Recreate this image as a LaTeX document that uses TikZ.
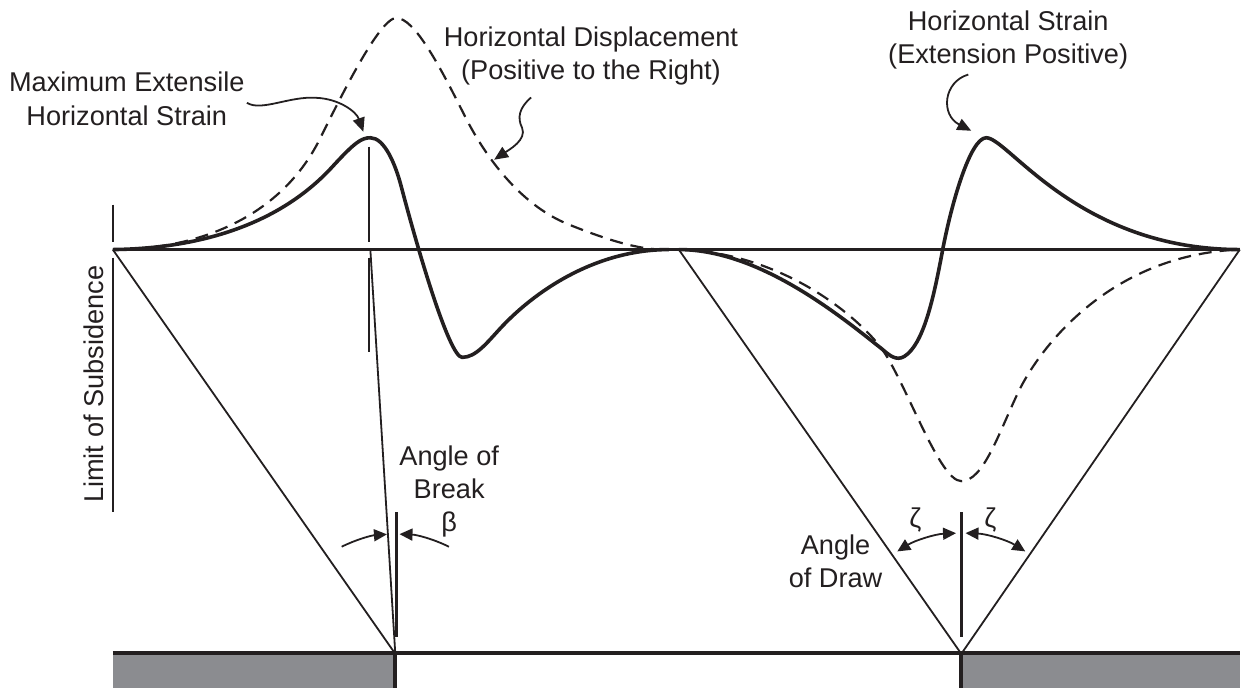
\documentclass[tikz,border=0pt]{standalone}
\usepackage{fontspec}
\setmainfont{Liberation Sans}
\usepackage{tikz}
\usetikzlibrary{
  arrows.meta,
  calc
}
\definecolor{msInk}{HTML}{231F20}
\definecolor{msGround}{HTML}{8B8C90}
\tikzset{
  lbl/.style={font=\fontsize{13.6}{16.6}\selectfont, align=center, inner sep=1pt, text=msInk},
  strain/.style={line width=1.8pt, draw=msInk},
  displ/.style={line width=1.1pt, draw=msInk, dash pattern=on 6.5pt off 4pt},
  baseln/.style={line width=1.8pt, draw=msInk},
  guide/.style={line width=0.9pt, draw=msInk},
  marker/.style={line width=1.3pt, draw=msInk},
  groundln/.style={line width=2.2pt, draw=msInk},
  annot/.style={-{Triangle[length=7pt,width=6pt]}, line width=0.9pt, draw=msInk},
  angarrow/.style={-{Triangle[length=6.5pt,width=6pt]}, line width=0.9pt, draw=msInk},
  angboth/.style={{Triangle[length=6.5pt,width=6pt]}-{Triangle[length=6.5pt,width=6pt]}, line width=0.9pt, draw=msInk}
}

\begin{document}
\begin{tikzpicture}[x=0.5pt, y=-0.5pt]
  \path[fill=white] (0,0) rectangle (1242,689);
  % key points of the profile
  \coordinate (L) at (113,250);
  \coordinate (P) at (371,250);
  \coordinate (M) at (680,250);
  \coordinate (R) at (1242,250);
  \coordinate (B1) at (396,655);
  \coordinate (B2) at (963,655);
  \coordinate (strpeakL) at (364,132);
  \coordinate (dispslope) at (495,160);
  \coordinate (strpeakR) at (973,131);

  % ground and seam
  \fill[msGround] (113,655) rectangle (396,689);
  \fill[msGround] (963,655) rectangle (1242,689);
  \draw[groundln] (113,654) -- (1242,654);
  \draw[groundln] (396,654) -- (396,689);
  \draw[groundln] (963,654) -- (963,689);

  % surface and limit lines
  \draw[baseln] (L) -- (R);
  \draw[guide] (L) -- (B1);
  \draw[guide] (P) -- (B1);
  \draw[guide] (M) -- (B2) -- (R);
  \draw[marker] (113,205) -- (113,242);
  \draw[marker] (113,258) -- (113,513);
  \draw[guide] (370,147) -- (370,242);
  \draw[guide] (370,258) -- (370,353);
  \draw[marker] (397,513) -- (397,638);
  \draw[marker] (963,513) -- (963,638);

  % horizontal strain
  \draw[strain] (L) .. controls (200,249) and (280,225) .. (333,167)
    .. controls (355,143) and (362,138) .. (371,138)
    .. controls (385,138) and (396,164) .. (402,187)
    .. controls (418,248) and (450,358) .. (463,358)
    .. controls (477,358) and (488,343) .. (503,327)
    .. controls (540,288) and (600,250) .. (670,250);
  \draw[strain] (M) .. controls (760,250) and (840,315) .. (884,350)
    .. controls (891,356) and (898,362) .. (906,357)
    .. controls (925,345) and (935,300) .. (944,252)
    .. controls (953,204) and (972,138) .. (988,138)
    .. controls (1010,138) and (1080,250) .. (R);

  % horizontal displacement
  \draw[displ] (L) .. controls (210,250) and (285,210) .. (320,140)
    .. controls (340,100) and (380,18) .. (397,18)
    .. controls (415,18) and (440,65) .. (465,115)
    .. controls (485,155) and (520,205) .. (570,225)
    .. controls (610,241) and (640,250) .. (665,250);
  \draw[displ] (M) .. controls (770,252) and (845,303) .. (880,345)
    .. controls (905,375) and (940,482) .. (963,482)
    .. controls (985,482) and (1000,435) .. (1020,393)
    .. controls (1040,351) and (1110,255) .. (R);

  % labels
  \node[lbl] (maxlbl) at (127,99) {Maximum Extensile\\Horizontal Strain};
  \node[lbl] (displbl) at (592,56) {Horizontal Displacement\\(Positive to the Right)};
  \node[lbl] (strlbl) at (1010,40) {Horizontal Strain\\(Extension Positive)};
  \node[lbl, rotate=90] (limlbl) at (94,385) {Limit of Subsidence};
  \node[lbl] (breaklbl) at (450,492) {Angle of\\Break\\β};
  \node[lbl] (drawlbl) at (837,562) {Angle\\of Draw};
  \node[lbl] (zetaL) at (917,521) {ζ};
  \node[lbl] (zetaR) at (992,521) {ζ};

  \draw[annot] ([shift={(0,4)}]maxlbl.east) .. controls (262,112) and (290,96) .. (317,98)
    .. controls (340,99) and (357,112) .. (strpeakL);
  \draw[annot] ([shift={(-60,10)}]displbl.south) .. controls (520,108) and (518,118) .. (523,128)
    .. controls (528,140) and (510,150) .. (dispslope);
  \draw[annot] ([shift={(-40,3)}]strlbl.south) .. controls (945,82) and (942,115) .. (strpeakR);

  % angle arrows
  \draw[angarrow] ([shift={(-116.6:120)}]B1) arc[start angle=-116.6, end angle=-94, radius=120];
  \draw[angarrow] ([shift={(-63.4:120)}]B1) arc[start angle=-63.4, end angle=-88, radius=120];
  \draw[angboth] ([shift={(-122:121)}]B2) arc[start angle=-122, end angle=-92.5, radius=121];
  \draw[angboth] ([shift={(-88:121)}]B2) arc[start angle=-88, end angle=-58, radius=121];
\end{tikzpicture}
\end{document}
